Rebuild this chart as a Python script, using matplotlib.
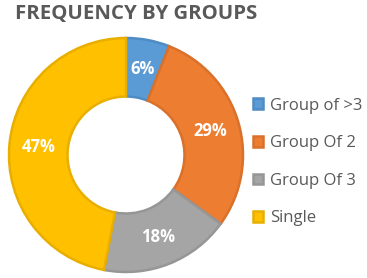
import matplotlib.pyplot as plt
import numpy as np

plt.rcParams['font.family'] = ['Open Sans', 'DejaVu Sans']

groups = ['Group of >3', 'Group Of 2', 'Group Of 3', 'Single']
shares = [6, 29, 18, 47]
colors = ['#5B9BD5', '#ED7D31', '#A5A5A5', '#FFC000']
edges = ['#4F8CC4', '#D9712B', '#969696', '#E8AF00']

fig = plt.figure(figsize=(3.67, 2.78), dpi=100)
# pie axes placed so that the ring sits at the left of the figure
ax = fig.add_axes([9 / 367, 6 / 278, 234 / 367, 234 / 278])

wedges, _ = ax.pie(shares, colors=colors, startangle=90, counterclock=False,
                   radius=1.0, wedgeprops=dict(width=0.5, linewidth=1.8))
for w, ec in zip(wedges, edges):
    w.set_edgecolor(ec)

for w, val in zip(wedges, shares):
    ang = np.deg2rad((w.theta1 + w.theta2) / 2)
    ax.text(0.75 * np.cos(ang), 0.75 * np.sin(ang), f'{val}%', ha='center',
            va='center', color='white', fontsize=12, fontweight='bold')

ax.set_xlim(-1, 1)
ax.set_ylim(-1, 1)
ax.set_aspect('equal')
ax.axis('off')

fig.text(15 / 367, 1 - 14 / 278, 'FREQUENCY BY GROUPS', ha='left', va='center',
         fontsize=14.7, fontweight='bold', color='#595959')

leg = fig.legend(wedges, groups, loc='center left',
                 bbox_to_anchor=(238 / 367, 1 - 162 / 278), frameon=False,
                 fontsize=12, handlelength=0.6, handleheight=0.6,
                 handletextpad=0.4, labelspacing=1.3, labelcolor='#595959')

fig.savefig('out.png', dpi=100)
